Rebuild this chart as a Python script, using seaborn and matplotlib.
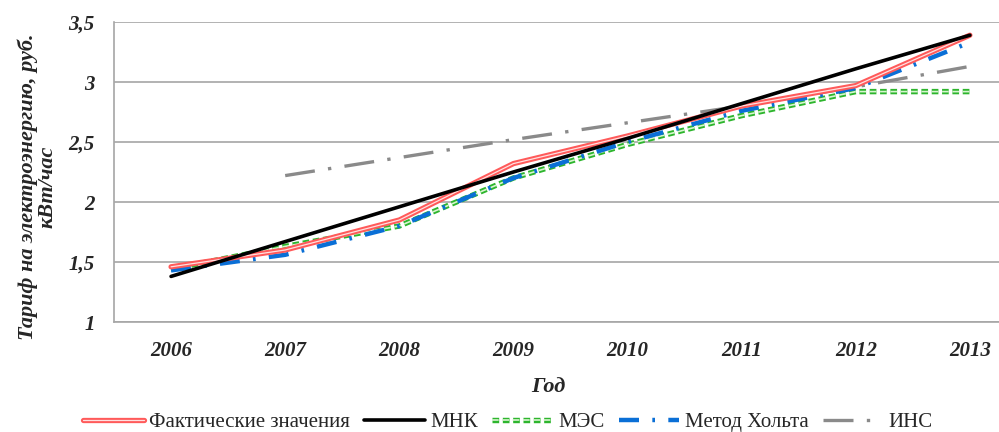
import matplotlib
matplotlib.use("Agg")
import matplotlib.pyplot as plt
import matplotlib.patheffects as pe
import seaborn as sns
import pandas as pd

years = [2006, 2007, 2008, 2009, 2010, 2011, 2012, 2013]
fact = [1.46, 1.60, 1.85, 2.32, 2.55, 2.80, 2.97, 3.39]
mnk = [1.38, 1.67, 1.96, 2.25, 2.53, 2.82, 3.11, 3.39]
mes = [1.44, 1.63, 1.80, 2.20, 2.48, 2.72, 2.92, 2.92]
holt = [1.43, 1.56, 1.80, 2.20, 2.50, 2.76, 2.95, 3.33]
ins_years = [2007, 2008, 2009, 2010, 2011, 2012, 2013]
ins = [2.22, 2.37, 2.52, 2.66, 2.80, 2.96, 3.13]

labels = ["Фактические значения", "МНК", "МЭС", "Метод Хольта", "ИНС"]
yticks = [1, 1.5, 2, 2.5, 3, 3.5]
ytick_labels = ["1", "1,5", "2", "2,5", "3", "3,5"]

sns.set_style("white")
plt.rcParams['font.family'] = ['Liberation Serif', 'DejaVu Serif']

fig = plt.figure(figsize=(9.99, 4.32), dpi=100)
ax = fig.add_axes([114/999, 110/432, 885/999, 300/432])

df = pd.DataFrame({"year": years, "fact": fact, "mnk": mnk, "mes": mes, "holt": holt})
dfi = pd.DataFrame({"year": ins_years, "ins": ins})

# Fact: red double line
sns.lineplot(data=df, x="year", y="fact", ax=ax, color="#ffe0e0", lw=0.9, label=labels[0],
             path_effects=[pe.Stroke(linewidth=3.8, foreground="#ff5a5a"), pe.Normal()], zorder=4)
sns.lineplot(data=df, x="year", y="mnk", ax=ax, color="black", lw=2.6, label=labels[1], zorder=5)
sns.lineplot(data=df, x="year", y="mes", ax=ax, color="#d8f5d0", lw=1.2, label=labels[2],
             linestyle=(0, (4, 2.2)),
             path_effects=[pe.Stroke(linewidth=3.9, foreground="#2db52d"), pe.Normal()], zorder=3)
sns.lineplot(data=df, x="year", y="holt", ax=ax, color="#0a6fd6", lw=3.2, label=labels[3],
             linestyle=(0, (4.5, 3, 0.6, 3)), zorder=3)
sns.lineplot(data=dfi, x="year", y="ins", ax=ax, color="#8a8a8a", lw=2.4, label=labels[4],
             linestyle=(0, (9, 4, 1, 4)), zorder=2)

ax.set_xlim(2005.5, 2013.255)
ax.set_ylim(1, 3.5)
ax.set_yticks(yticks)
ax.set_yticklabels(ytick_labels)
ax.set_xticks(years)
ax.set_xticklabels([str(y) for y in years])
ax.yaxis.grid(True, color="#a6a6a6", lw=1.2)
ax.xaxis.grid(False)
for s in ["top", "right"]:
    ax.spines[s].set_visible(False)
for s in ["left", "bottom"]:
    ax.spines[s].set_color("#a6a6a6")
    ax.spines[s].set_linewidth(1.2)

for t in ax.get_xticklabels() + ax.get_yticklabels():
    t.set_fontsize(15)
    t.set_fontweight("bold")
    t.set_fontstyle("italic")
ax.tick_params(axis="y", pad=14, length=0)
ax.tick_params(axis="x", pad=14, length=0)

ax.set_xlabel("Год", fontsize=16, fontweight="bold", fontstyle="italic")
ax.xaxis.set_label_coords((548 - 114) / 885, -0.185)
ax.set_ylabel("Тариф на электроэнергию, руб.\nкВт/час", fontsize=16, fontweight="bold",
              fontstyle="italic", linespacing=1.0)
ax.yaxis.set_label_coords((58 - 114) / 885, (322 - 187) / 300)

leg = ax.legend(loc="center", bbox_to_anchor=(508 / 999, 10 / 432), bbox_transform=fig.transFigure,
                ncol=5, frameon=False, fontsize=15, handlelength=2.9, columnspacing=0.7,
                handletextpad=0.25, borderaxespad=0, borderpad=0)

fig.savefig("out.png", dpi=100)
